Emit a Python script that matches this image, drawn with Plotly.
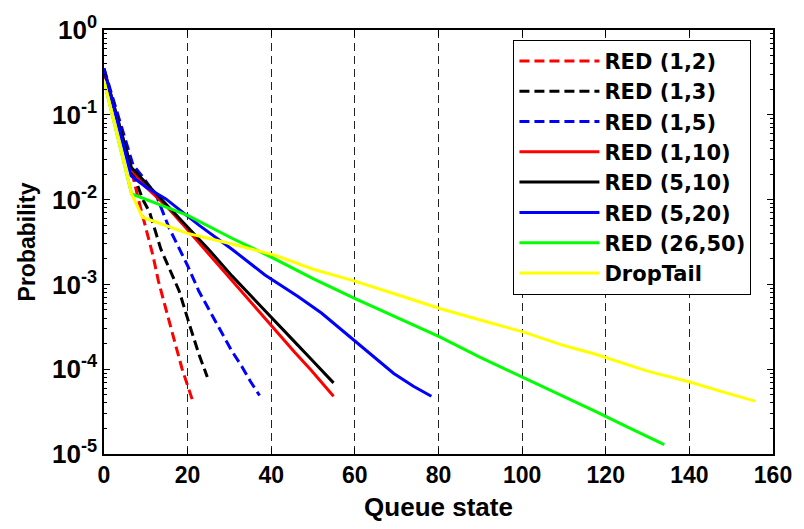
import plotly.graph_objects as go

# ---- data ----
names = ["RED (1,2)", "RED (1,3)", "RED (1,5)", "RED (1,10)", "RED (5,10)",
         "RED (5,20)", "RED (26,50)", "DropTail"]

x_red12 = [0, 6.3, 8.5, 10, 11.7, 13, 14.8, 16.5, 18.7, 20, 21.1]
y_red12 = [0.33, 0.025, 8.9e-3, 4.5e-3, 2.2e-3, 1.1e-3, 5.0e-4, 2.5e-4, 1.0e-4, 6.3e-5, 4.4e-5]

x_red13 = [0, 6.5, 9.2, 10.9, 13.6, 16, 18, 20.4, 22.7, 24.7]
y_red13 = [0.33, 0.024, 0.0102, 7.1e-3, 2.6e-3, 1.4e-3, 8.3e-4, 3.4e-4, 1.5e-4, 8.1e-5]

x_red15 = [0, 6.9, 9.5, 12.5, 15.6, 18, 20, 22.7, 25.5, 28.2, 30.5, 33, 35, 37.2]
y_red15 = [0.35, 0.026, 0.0178, 0.0112, 4.6e-3, 2.6e-3, 1.66e-3, 8.3e-4, 4.6e-4,
           2.6e-4, 1.66e-4, 1.07e-4, 7.2e-5, 4.9e-5]

x_red110 = [0, 6.5, 10, 14.8, 20, 25, 30.6, 35, 38.5, 41.7, 45.6, 49.5, 52, 54.9]
y_red110 = [0.33, 0.023, 0.0141, 8.5e-3, 4.4e-3, 2.3e-3, 1.1e-3, 6.2e-4, 4.0e-4,
            2.6e-4, 1.58e-4, 9.8e-5, 7.1e-5, 4.8e-5]

x_red510 = [0, 6.5, 10, 14.8, 20, 25, 30.6, 35, 38.5, 41.7, 45.6, 49.5, 52, 54.9]
y_red510 = [0.34, 0.024, 0.0158, 8.9e-3, 4.8e-3, 2.6e-3, 1.26e-3, 7.4e-4, 4.9e-4,
            3.3e-4, 2.1e-4, 1.32e-4, 9.8e-5, 6.9e-5]

x_red520 = [0, 6.5, 10, 14.8, 22.7, 30.6, 38.5, 46.4, 52, 59.8, 65, 69.3, 74, 78.3]
y_red520 = [0.355, 0.019, 0.0141, 0.0102, 5.0e-3, 2.6e-3, 1.29e-3, 7.2e-4, 4.6e-4,
            2.2e-4, 1.32e-4, 8.9e-5, 6.3e-5, 4.8e-5]

x_red2650 = [0, 6.6, 20, 30.6, 40, 50, 59.8, 70, 80.3, 90, 100.8, 110, 117.4, 125, 134]
y_red2650 = [0.25, 0.0117, 6.5e-3, 3.5e-3, 2.1e-3, 1.17e-3, 6.9e-4, 4.1e-4, 2.4e-4,
             1.38e-4, 7.8e-5, 4.7e-5, 3.2e-5, 2.1e-5, 1.29e-5]

x_drop = [0, 6.6, 9.2, 20, 30.6, 41, 50, 59.8, 70, 80.3, 90, 100.8, 110, 117.4, 130,
          139.9, 148, 155.7]
y_drop = [0.25, 0.0117, 6.2e-3, 4.0e-3, 3.0e-3, 2.2e-3, 1.51e-3, 1.1e-3, 7.6e-4, 5.2e-4,
          3.8e-4, 2.7e-4, 1.9e-4, 1.51e-4, 9.5e-5, 7.1e-5, 5.4e-5, 4.2e-5]

xs = [x_red12, x_red13, x_red15, x_red110, x_red510, x_red520, x_red2650, x_drop]
ys = [y_red12, y_red13, y_red15, y_red110, y_red510, y_red520, y_red2650, y_drop]

x_ticks = [0, 20, 40, 60, 80, 100, 120, 140, 160]
y_ticks = [1, 1e-1, 1e-2, 1e-3, 1e-4, 1e-5]
y_ticktext = ["10<sup>0</sup>", "10<sup>-1</sup>", "10<sup>-2</sup>",
              "10<sup>-3</sup>", "10<sup>-4</sup>", "10<sup>-5</sup>"]

# ---- styles ----
colors = ["#ff0000", "#000000", "#0000ff", "#ff0000", "#000000", "#0000ff", "#00ff00", "#ffff00"]
dashes = ["10px,5px", "10px,5px", "10px,5px", "solid", "solid", "solid", "solid", "solid"]

FONT = "Liberation Sans, Arial, sans-serif"
LEGFONT = "DejaVu Sans, Liberation Sans, sans-serif"

fig = go.Figure()
for n, x, y, c, d in zip(names, xs, ys, colors, dashes):
    fig.add_trace(go.Scatter(x=x, y=y, mode="lines", name=n,
                             line=dict(color=c, width=3, dash=d)))

fig.update_layout(
    width=804, height=529,
    margin=dict(l=104, r=24, t=29, b=71),
    paper_bgcolor="white", plot_bgcolor="white",
    font=dict(family=FONT, size=22, color="black", weight="bold"),
    legend=dict(x=0.612, y=0.977, xanchor="left", yanchor="top",
                bgcolor="white", bordercolor="black", borderwidth=1,
                font=dict(family=LEGFONT, size=21, color="black", weight="bold"),
                itemwidth=80, tracegroupgap=0),
    showlegend=True,
)

fig.update_xaxes(
    range=[0, 160], tickvals=x_ticks, ticktext=[str(v) for v in x_ticks],
    showline=True, linecolor="black", linewidth=1.5, mirror="ticks",
    ticks="inside", ticklen=6, tickcolor="black", tickwidth=1,
    showgrid=True, gridcolor="#222222", gridwidth=1, griddash="8px,5px",
    zeroline=False,
    tickfont=dict(family=FONT, size=23, color="black", weight="bold"),
    title=dict(text="Queue state", standoff=10,
               font=dict(family=FONT, size=26, color="black", weight="bold")),
)

fig.update_yaxes(
    type="log", range=[-5, 0], tickvals=y_ticks, ticktext=y_ticktext,
    showline=True, linecolor="black", linewidth=1.5, mirror="ticks",
    ticks="inside", ticklen=6, tickcolor="black", tickwidth=1,
    minor=dict(ticks="inside", ticklen=3, tickcolor="black", dtick="D1", showgrid=False),
    showgrid=False, zeroline=False,
    tickfont=dict(family=FONT, size=26, color="black", weight="bold"),
    title=dict(text="Probability", standoff=10,
               font=dict(family=FONT, size=23, color="black", weight="bold")),
)

fig.write_html("out.html")
